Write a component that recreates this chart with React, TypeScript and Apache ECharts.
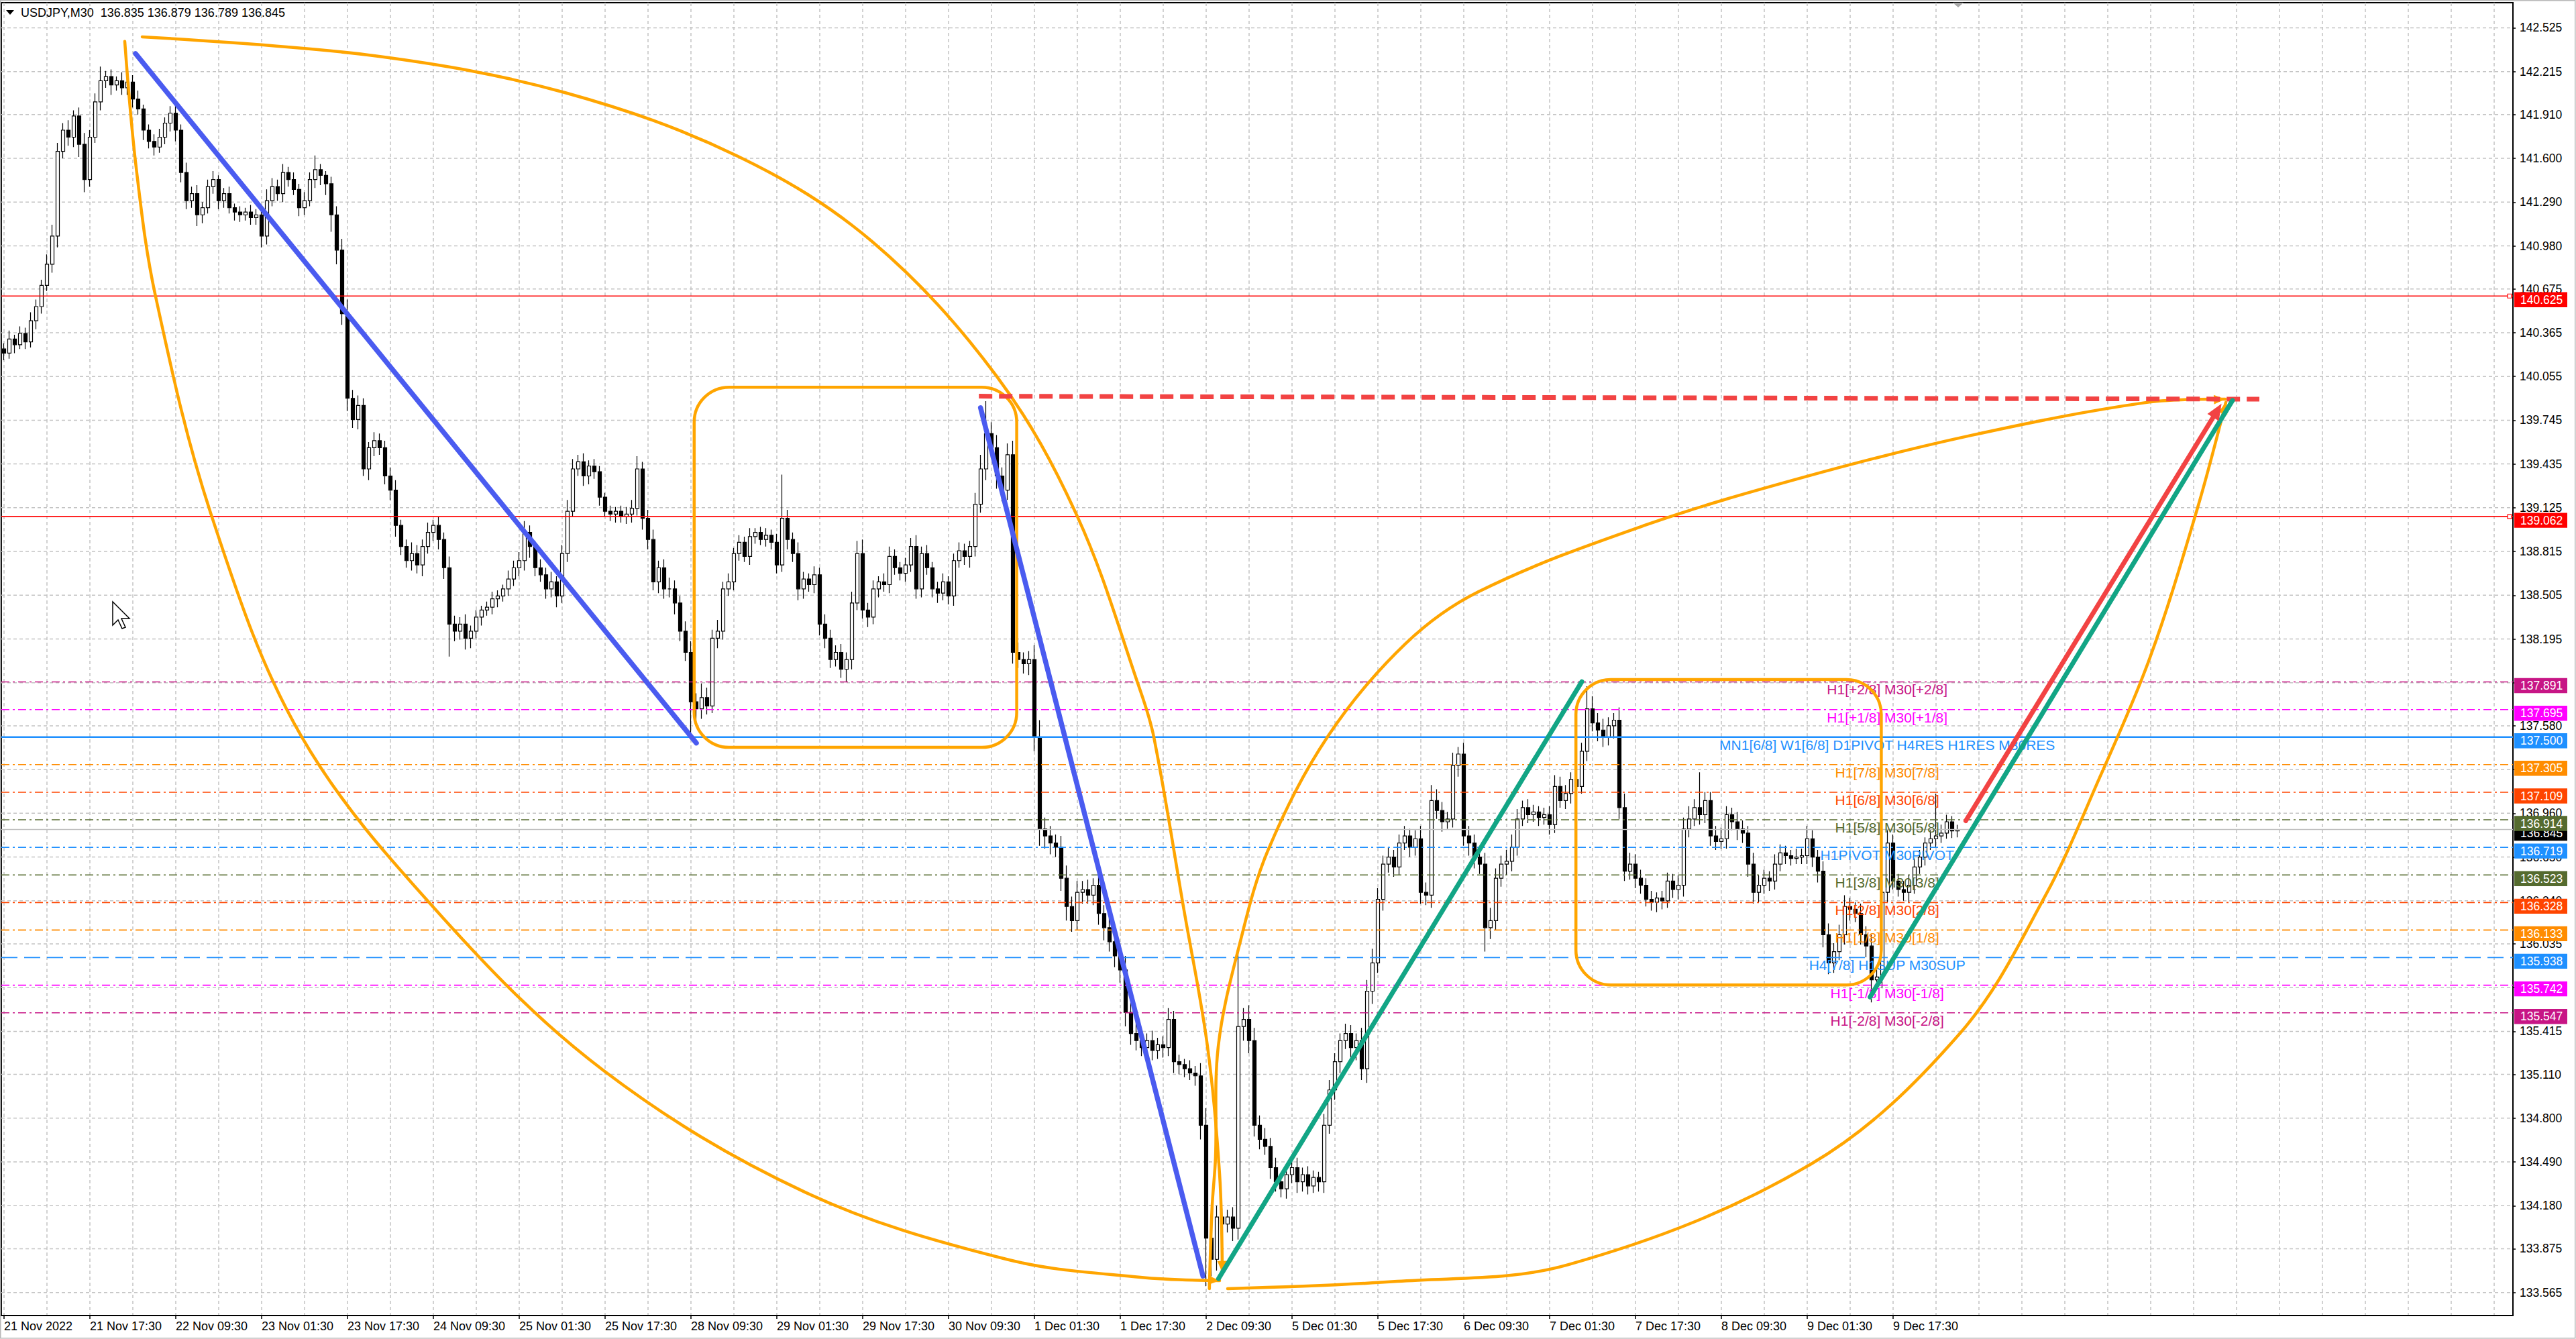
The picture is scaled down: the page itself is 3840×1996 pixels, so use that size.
import React, { useEffect, useRef } from 'react';
import * as echarts from 'echarts';

// Each hourly bar: [close, upper wick, lower wick] (wicks in hundredths of a yen); open = previous close
type Bar = [number, number, number];

const FONT = "'Liberation Sans', Arial, Helvetica, sans-serif";
const SYMBOL = 'USDJPY,M30';
const firstOpen = 140.25;

const nov21: Bar[] = [[140.22,4,5],[140.32,6,4],[140.28,3,6],[140.36,5,3],[140.30,4,5],[140.45,6,4],[140.55,5,6],[140.70,4,5],[140.85,7,4],[141.05,8,6],[141.65,6,8],[141.80,5,5],[141.75,7,6],[141.90,4,7],[141.70,6,9],[141.45,8,9],[141.75,5,5],[142.00,6,4],[142.15,10,6],[142.18,4,5],[142.12,5,7],[142.15,3,4],[142.10,6,5]];
const nov22: Bar[] = [[142.14,4,5],[142.02,5,6],[141.95,6,4],[141.80,3,7],[141.72,4,5],[141.68,5,6],[141.75,6,4],[141.85,4,5],[141.92,5,6],[141.80,6,8],[141.50,4,7],[141.30,7,6],[141.35,5,5],[141.20,6,8],[141.25,4,6],[141.40,5,4],[141.45,6,5],[141.30,3,6],[141.35,4,5],[141.25,5,4],[141.22,3,6],[141.20,4,5],[141.22,3,4],[141.18,5,5]];
const nov23: Bar[] = [[141.20,4,5],[141.05,3,8],[141.30,8,6],[141.40,6,4],[141.35,5,5],[141.50,6,6],[141.45,4,5],[141.38,5,4],[141.25,4,6],[141.30,6,5],[141.45,5,4],[141.52,10,6],[141.48,4,7],[141.42,3,8],[141.20,5,12],[140.95,6,10],[140.50,8,8],[139.90,10,9],[139.75,6,6],[139.85,7,7],[139.40,5,5],[139.55,4,8],[139.60,6,6],[139.55,5,5]];
const nov24: Bar[] = [[139.35,5,6],[139.25,6,7],[139.00,7,8],[138.85,4,6],[138.75,5,5],[138.80,8,7],[138.72,6,6],[138.85,5,8],[138.95,7,5],[139.00,4,6],[138.90,6,7],[138.70,5,8],[138.30,8,23],[138.25,6,7],[138.30,5,6],[138.20,7,8],[138.25,4,7],[138.35,5,5],[138.40,3,6],[138.42,4,4],[138.48,5,5],[138.50,4,6],[138.55,3,4],[138.62,6,5]];
const nov25: Bar[] = [[138.70,5,5],[138.75,6,6],[138.95,8,7],[138.85,5,8],[138.70,4,6],[138.65,6,5],[138.55,5,7],[138.60,7,6],[138.50,4,8],[138.80,6,5],[139.10,8,6],[139.40,7,4],[139.45,5,5],[139.35,6,7],[139.42,4,6],[139.38,5,5],[139.20,4,6],[139.10,3,4],[139.08,4,5],[139.10,3,6],[139.06,4,4],[139.08,5,5],[139.12,6,6],[139.40,9,5]];
const nov28: Bar[] = [[139.05,5,8],[138.90,6,7],[138.60,7,6],[138.70,5,8],[138.55,6,7],[138.55,8,6],[138.45,6,8],[138.25,5,7],[138.10,7,6],[137.75,8,23],[137.70,6,8],[137.78,10,7],[137.72,7,6],[138.20,6,5],[138.25,8,7],[138.55,5,6],[138.60,6,5],[138.80,4,6],[138.88,5,5],[138.78,4,4],[138.92,6,6],[138.95,3,5],[138.90,4,4],[138.93,5,5]];
const nov29: Bar[] = [[138.88,4,5],[138.72,6,6],[139.05,31,5],[138.90,6,7],[138.80,5,6],[138.55,8,8],[138.62,5,7],[138.58,4,5],[138.65,6,6],[138.30,5,8],[138.20,7,7],[138.05,6,6],[138.10,5,5],[137.98,6,6],[138.05,5,9],[138.45,8,7],[138.80,9,5],[138.40,10,6],[138.35,5,7],[138.55,6,5],[138.60,4,6],[138.58,6,5],[138.78,7,6],[138.70,5,5]];
const nov30: Bar[] = [[138.66,4,5],[138.72,5,6],[138.85,6,5],[138.55,8,7],[138.80,5,6],[138.70,6,5],[138.55,4,6],[138.52,5,7],[138.60,6,5],[138.50,4,6],[138.75,5,7],[138.82,6,5],[138.78,5,6],[138.85,4,8],[139.15,8,7],[139.40,10,6],[139.65,23,8],[139.55,8,7],[139.35,9,9],[139.25,6,8],[139.50,8,7],[138.10,10,8],[138.05,7,6],[138.02,5,7]];
const dec1: Bar[] = [[138.05,6,8],[137.50,10,10],[136.85,12,12],[136.80,8,9],[136.75,7,8],[136.72,6,7],[136.50,8,9],[136.30,9,10],[136.20,7,8],[136.40,8,7],[136.42,6,8],[136.38,7,6],[136.45,5,7],[136.25,8,8],[136.15,6,9],[136.05,7,7],[135.95,8,8],[135.85,9,9],[135.55,10,10],[135.40,7,8],[135.35,8,7],[135.30,6,6],[135.35,5,8],[135.28,7,7]];
const dec2: Bar[] = [[135.32,5,6],[135.30,6,7],[135.50,8,6],[135.20,6,8],[135.18,5,7],[135.15,4,6],[135.12,6,5],[135.10,5,7],[134.75,9,10],[133.95,12,34],[133.80,10,12],[134.10,8,8],[134.05,6,7],[134.10,5,6],[134.02,7,9],[135.45,53,8],[135.50,8,10],[135.35,10,9],[134.75,9,8],[134.65,7,7],[134.60,8,6],[134.45,6,8],[134.35,7,7],[134.30,5,6]];
const dec5: Bar[] = [[134.40,6,7],[134.45,5,6],[134.35,7,8],[134.40,5,7],[134.32,6,6],[134.38,5,5],[134.35,4,7],[134.75,8,8],[135.00,7,6],[135.20,6,7],[135.35,5,8],[135.40,7,6],[135.30,6,7],[135.35,5,9],[135.15,9,8],[135.70,8,10],[135.90,10,9],[136.35,8,7],[136.60,6,8],[136.65,7,6],[136.58,5,7],[136.75,6,6],[136.80,7,5],[136.72,5,7]];
const dec6: Bar[] = [[136.78,6,6],[136.40,9,8],[136.38,7,7],[137.05,11,9],[136.98,8,6],[136.90,6,7],[136.92,5,5],[137.30,9,6],[137.38,5,8],[136.80,8,7],[136.75,7,9],[136.65,6,8],[136.60,5,7],[136.15,8,17],[136.20,9,8],[136.50,7,7],[136.60,6,6],[136.62,8,8],[136.72,9,7],[136.92,7,6],[137.00,5,5],[136.95,6,6],[136.97,5,5],[136.93,4,6]];
const dec7: Bar[] = [[136.95,5,5],[136.88,6,7],[137.15,8,6],[137.05,7,5],[137.10,6,6],[137.20,5,7],[137.15,7,6],[137.40,6,5],[137.70,16,7],[137.60,9,6],[137.55,7,8],[137.50,8,7],[137.58,6,6],[137.62,5,9],[137.00,9,8],[136.55,10,7],[136.60,8,6],[136.50,7,7],[136.45,6,6],[136.35,5,5],[136.33,6,6],[136.36,4,7],[136.34,5,6],[136.48,6,5]];
const dec8: Bar[] = [[136.42,5,6],[136.45,7,7],[136.85,8,8],[136.92,9,6],[137.00,6,5],[136.95,25,7],[137.05,6,6],[136.80,6,7],[136.76,7,6],[136.78,8,5],[136.95,6,7],[136.90,5,6],[136.85,7,8],[136.82,6,7],[136.60,5,9],[136.40,8,8],[136.45,7,7],[136.50,6,6],[136.48,5,7],[136.60,7,6],[136.68,6,5],[136.66,5,6],[136.64,4,5],[136.65,6,4]];
const dec9: Bar[] = [[136.66,5,5],[136.78,9,6],[136.65,6,7],[136.55,5,8],[136.10,7,9],[135.90,8,8],[135.98,6,7],[136.10,7,6],[136.30,8,7],[136.28,6,8],[136.25,5,6],[136.10,7,7],[136.02,6,8],[135.78,8,16],[135.80,7,7],[136.40,9,8],[136.75,9,7],[136.48,6,6],[136.42,5,5],[136.40,6,6],[136.45,7,7],[136.58,6,6],[136.65,5,5],[136.75,4,6],[136.78,6,5],[136.80,30,6],[136.82,6,5],[136.90,5,4],[136.835,4,5],[136.845,3.4,4.6]];

// [month index, day, first hour, bars]
const sessions: [number, number, number, Bar[]][] = [
  [10, 21, 1, nov21], [10, 22, 0, nov22], [10, 23, 0, nov23], [10, 24, 0, nov24], [10, 25, 0, nov25],
  [10, 28, 0, nov28], [10, 29, 0, nov29], [10, 30, 0, nov30], [11, 1, 0, dec1], [11, 2, 0, dec2],
  [11, 5, 0, dec5], [11, 6, 0, dec6], [11, 7, 0, dec7], [11, 8, 0, dec8], [11, 9, 0, dec9],
];
const futureBars = 103;

const priceTicks = [142.525, 142.215, 141.910, 141.600, 141.290, 140.980, 140.675, 140.365, 140.055, 139.745, 139.435, 139.125, 138.815, 138.505, 138.195, 137.885, 137.580, 137.270, 136.960, 136.650, 136.340, 136.035, 135.725, 135.415, 135.110, 134.800, 134.490, 134.180, 133.875, 133.565];
const yMin = 133.402;
const yMax = 142.703;

const levelPrice = [140.625, 139.062, 137.891, 137.695, 137.500, 137.305, 137.109, 136.845, 136.914, 136.719, 136.523, 136.328, 136.133, 135.938, 135.742, 135.547];
const levelColor = ['#ff0000', '#ff0000', '#c71585', '#ff00ff', '#1e90ff', '#ff8c00', '#ff4500', '#000000', '#556b2f', '#1e90ff', '#556b2f', '#ff4500', '#ff8c00', '#1e90ff', '#ff00ff', '#c71585'];
const levelKind = ['solid', 'solid', 'dashdot', 'dashdot', 'thick', 'dashdot', 'dashdot', 'bid', 'dashdot', 'dashdot', 'dashdot', 'dashdot', 'dashdot', 'dash', 'dashdot', 'dashdot'];

const noteText = ['H1[+2/8] M30[+2/8]', 'H1[+1/8] M30[+1/8]', 'MN1[6/8] W1[6/8] D1PIVOT H4RES H1RES M30RES', 'H1[7/8] M30[7/8]', 'H1[6/8] M30[6/8]', 'H1[5/8] M30[5/8]', 'H1PIVOT M30PIVOT', 'H1[3/8] M30[3/8]', 'H1[2/8] M30[2/8]', 'H1[1/8] M30[1/8]', 'H4[7/8] H1SUP M30SUP', 'H1[-1/8] M30[-1/8]', 'H1[-2/8] M30[-2/8]'];
const notePrice = [137.891, 137.695, 137.500, 137.305, 137.109, 136.914, 136.719, 136.523, 136.328, 136.133, 135.938, 135.742, 135.547];
const noteColor = ['#c71585', '#ff00ff', '#1e90ff', '#ff8c00', '#ff4500', '#556b2f', '#1e90ff', '#556b2f', '#ff4500', '#ff8c00', '#1e90ff', '#ff00ff', '#c71585'];
const noteIndex = 350.9;

// drawings in [bar index, price]
const blueLines = [[24.5, 142.342, 129.0, 137.458], [181.96, 139.833, 223.4, 133.682]];
const greenLines = [[226.3, 133.663, 294.0, 137.893], [347.7, 135.658, 415.25, 139.885]];
const redArrow = [365.55, 136.907, 413.2, 139.862];
const redDash = [181.65, 139.915, 420.25, 139.894];
const boxes = [[128.6, 139.979, 188.7, 137.427], [292.9, 137.908, 349.8, 135.744]];
const arcA = [[22.5, 142.428], [24.625, 141.534], [28.19, 140.631], [38.71, 139.063], [55.375, 137.508], [81.875, 136.216], [111.75, 135.137], [149.25, 134.276], [186.75, 133.801], [211.75, 133.673], [226.5, 133.649]];
const arcB = [[25.75, 142.461], [69.375, 142.325], [104.5, 142.066], [136.75, 141.615], [161.75, 141.011], [184.875, 140.061], [200, 139.063], [211.75, 137.827], [214.25, 137.5], [219.875, 136.273], [224.25, 135.308], [226.5, 134.405], [227, 133.708]];
const arcC = [[228, 133.592], [259.6, 133.644], [291.5, 133.763], [336.75, 134.476], [364.5, 135.403], [380.25, 136.368], [390.5, 137.214], [399.875, 138.064], [408.625, 139.11], [414, 139.871]];
const arcD = [[224.6, 133.592], [225.1, 134.167], [225.75, 134.524], [226.25, 135.308], [230.25, 136.035], [235.6, 136.705], [246.75, 137.509], [261.1, 138.16], [274.75, 138.53], [305.4, 138.996], [336, 139.348], [366.6, 139.638], [399.25, 139.871], [413.9, 139.894]];

const MON = ['Jan', 'Feb', 'Mar', 'Apr', 'May', 'Jun', 'Jul', 'Aug', 'Sep', 'Oct', 'Nov', 'Dec'];
const pad = (n: number) => String(n).padStart(2, '0');

const categories: string[] = [];
const candles: number[][] = [];
let prevClose = firstOpen;
sessions.forEach(([m, d, h0, bars]) => {
  bars.forEach((b, k) => {
    const [c, up, dn] = b;
    const o = prevClose;
    candles.push([o, c, Math.min(o, c) - dn / 100, Math.max(o, c) + up / 100]);
    prevClose = c;
    const t = new Date(2022, m, d, h0 + k, 30);
    categories.push(categories.length === 0 ? `${t.getDate()} ${MON[t.getMonth()]} 2022` : `${t.getDate()} ${MON[t.getMonth()]} ${pad(t.getHours())}:${pad(t.getMinutes())}`);
  });
});
for (let k = 0; k < futureBars; k++) categories.push(`future-${k}`);
const lastCandle = candles[candles.length - 1];
const headerText = `${SYMBOL}  ${lastCandle[0].toFixed(3)} ${lastCandle[3].toFixed(3)} ${lastCandle[2].toFixed(3)} ${lastCandle[1].toFixed(3)}`;
const showLabel = (idx: number) => idx % 16 === 0 && idx < candles.length;

function arrowHead(tip: number[], from: number[], len: number, wid: number, color: string) {
  const dx = tip[0] - from[0];
  const dy = tip[1] - from[1];
  const L = Math.hypot(dx, dy) || 1;
  const ux = dx / L, uy = dy / L;
  const bx = tip[0] - ux * len, by = tip[1] - uy * len;
  return {
    type: 'polygon',
    shape: { points: [tip, [bx - uy * wid / 2, by + ux * wid / 2], [bx + uy * wid / 2, by - ux * wid / 2]] },
    style: { fill: color },
  };
}

function renderGrid(params: any, api: any) {
  const cs = params.coordSys;
  return {
    type: 'group',
    children: priceTicks.map((p) => {
      const y = api.coord([0, p])[1];
      return { type: 'line', shape: { x1: cs.x, y1: y, x2: cs.x + cs.width, y2: y }, style: { stroke: '#c4c4c4', lineWidth: 1.5, lineDash: [5, 4] } };
    }),
  };
}

function renderOverlay(params: any, api: any) {
  const cs = params.coordSys;
  const x0 = api.coord([0, yMin])[0];
  const bw = api.size([1, 0])[0];
  const X = (i: number) => x0 + i * bw;
  const Y = (p: number) => api.coord([0, p])[1];
  const P = (pt: number[]) => [X(pt[0]), Y(pt[1])];
  const left = cs.x;
  const right = cs.x + cs.width;
  const ch: any[] = [];

  // horizontal levels
  levelPrice.forEach((p, k) => {
    const kind = levelKind[k];
    const y = Y(p);
    const stroke = kind === 'bid' ? '#c0c0c0' : levelColor[k];
    const lineDash = kind === 'dashdot' ? [12, 5, 3, 5] : kind === 'dash' ? [24, 10] : null;
    const lineWidth = kind === 'thick' ? 2.6 : kind === 'solid' ? 1.6 : 1.6;
    ch.push({ type: 'line', shape: { x1: left, y1: y, x2: right, y2: y }, style: { stroke, lineWidth, lineDash } });
    if (kind === 'solid') {
      ch.push({ type: 'rect', shape: { x: right - 8, y: y - 3, width: 6, height: 6 }, style: { fill: '#fff', stroke, lineWidth: 1.2 } });
    }
  });

  // level notes
  notePrice.forEach((p, k) => {
    ch.push({
      type: 'text', x: X(noteIndex), y: Y(p) + 1,
      style: { text: noteText[k], fill: noteColor[k], fontSize: 21, fontFamily: FONT, align: 'center', verticalAlign: 'top' },
    });
  });

  // rounded rectangles
  boxes.forEach((b) => {
    const [x1, y1] = P([b[0], b[1]]);
    const [x2, y2] = P([b[2], b[3]]);
    ch.push({ type: 'rect', shape: { x: x1, y: y1, width: x2 - x1, height: y2 - y1, r: 52 }, style: { fill: 'none', stroke: '#ffa500', lineWidth: 4.5 } });
  });

  // curved arcs with arrow heads
  [arcA, arcB, arcC, arcD].forEach((arc) => {
    const pts = arc.map(P);
    ch.push({ type: 'polyline', shape: { points: pts, smooth: 0.35 }, style: { fill: 'none', stroke: '#ffa500', lineWidth: 4.5, lineCap: 'round' } });
    ch.push(arrowHead(pts[pts.length - 1], pts[pts.length - 2], 17, 14, '#ffa500'));
  });

  // red dashed target line
  {
    const [x1, y1] = P([redDash[0], redDash[1]]);
    const [x2, y2] = P([redDash[2], redDash[3]]);
    ch.push({ type: 'line', shape: { x1, y1, x2, y2 }, style: { stroke: '#f24343', lineWidth: 7, lineDash: [20, 10] } });
  }

  // trend lines
  blueLines.forEach((l) => {
    const [x1, y1] = P([l[0], l[1]]);
    const [x2, y2] = P([l[2], l[3]]);
    ch.push({ type: 'line', shape: { x1, y1, x2, y2 }, style: { stroke: '#4a5bf0', lineWidth: 7.5, lineCap: 'round' } });
  });
  greenLines.forEach((l) => {
    const [x1, y1] = P([l[0], l[1]]);
    const [x2, y2] = P([l[2], l[3]]);
    ch.push({ type: 'line', shape: { x1, y1, x2, y2 }, style: { stroke: '#12a585', lineWidth: 7, lineCap: 'round' } });
  });
  {
    const a = P([redArrow[0], redArrow[1]]);
    const b = P([redArrow[2], redArrow[3]]);
    const L = Math.hypot(b[0] - a[0], b[1] - a[1]);
    const ux = (b[0] - a[0]) / L, uy = (b[1] - a[1]) / L;
    ch.push({ type: 'line', shape: { x1: a[0], y1: a[1], x2: b[0] - ux * 16, y2: b[1] - uy * 16 }, style: { stroke: '#f24343', lineWidth: 7, lineCap: 'round' } });
    ch.push(arrowHead(b, a, 24, 20, '#f24343'));
  }

  // price tags on the axis
  levelPrice.forEach((p, k) => {
    const y = Y(p);
    ch.push({ type: 'rect', shape: { x: right + 2, y: y - 5.7, width: 79, height: 22.4 }, style: { fill: levelColor[k] } });
    ch.push({ type: 'text', x: right + 11, y: y + 5.5, style: { text: p.toFixed(3), fill: '#ffffff', fontSize: 17.5, fontFamily: FONT, align: 'left', verticalAlign: 'middle' } });
  });

  return { type: 'group', children: ch };
}

const cursorPts = [[0, 0], [0, 35], [8, 27], [14, 40], [19, 38], [13, 25], [25, 25]].map(([a, b]) => [168 + a, 897 + b]);

function buildOption(): any {
  return {
    animation: false,
    backgroundColor: '#ffffff',
    textStyle: { fontFamily: FONT },
    grid: { left: 2, right: 94, top: 4, bottom: 35, show: true, borderColor: '#000', borderWidth: 2, backgroundColor: '#fff', containLabel: false, outerBoundsMode: 'none' },
    xAxis: {
      type: 'category',
      data: categories,
      boundaryGap: true,
      axisLine: { show: true, lineStyle: { color: '#000', width: 2 } },
      axisTick: { show: true, alignWithLabel: true, interval: showLabel, length: 5, lineStyle: { color: '#000', width: 1.5 } },
      axisLabel: { show: true, interval: showLabel, align: 'left', margin: 7, color: '#000', fontSize: 18, fontFamily: FONT },
      splitLine: { show: true, interval: 7, alignWithLabel: true, lineStyle: { color: '#c4c4c4', width: 1.5, type: [5, 4] } },
    },
    yAxis: {
      type: 'value',
      position: 'right',
      min: yMin,
      max: yMax,
      scale: true,
      axisLine: { show: true, lineStyle: { color: '#000', width: 2 } },
      axisTick: { show: true, customValues: priceTicks, length: 4, lineStyle: { color: '#000', width: 1.5 } },
      axisLabel: { show: true, customValues: priceTicks, formatter: (v: number) => v.toFixed(3), color: '#000', fontSize: 17.5, fontFamily: FONT, margin: 10 },
      splitLine: { show: false },
    },
    graphic: [
      { type: 'rect', silent: true, z: 0, shape: { x: 0.75, y: 0.75, width: 3838, height: 1994 }, style: { fill: 'none', stroke: '#b8b8b8', lineWidth: 1.5 } },
      { type: 'polygon', silent: true, z: 10, shape: { points: [[9, 15], [21, 15], [15, 22]] }, style: { fill: '#000' } },
      { type: 'text', silent: true, z: 10, x: 31, y: 10, style: { text: headerText, fill: '#000', fontSize: 18, fontFamily: FONT } },
      { type: 'polygon', silent: true, z: 10, shape: { points: [[2911, 4], [2927, 4], [2919, 11]] }, style: { fill: '#a8a8a8' } },
      { type: 'polygon', silent: true, z: 10, shape: { points: cursorPts }, style: { fill: '#fff', stroke: '#000', lineWidth: 1.5 } },
    ],
    series: [
      { type: 'custom', name: 'grid', z: 1, silent: true, clip: true, data: [[0, 138]], renderItem: renderGrid },
      {
        type: 'candlestick',
        name: SYMBOL,
        z: 2,
        data: candles,
        barWidth: 5,
        itemStyle: { color: '#ffffff', color0: '#000000', borderColor: '#000000', borderColor0: '#000000', borderWidth: 1.2 },
      },
      { type: 'custom', name: 'objects', z: 5, silent: true, clip: false, data: [[0, 138]], renderItem: renderOverlay },
    ],
  };
}

export default function App() {
  const ref = useRef<HTMLDivElement>(null);
  useEffect(() => {
    document.body.style.margin = '0';
    const chart = echarts.init(ref.current as HTMLDivElement, undefined, { renderer: 'svg' });
    chart.setOption(buildOption());
    return () => chart.dispose();
  }, []);
  return <div ref={ref} style={{ width: 3840, height: 1996, background: '#ffffff' }} />;
}
